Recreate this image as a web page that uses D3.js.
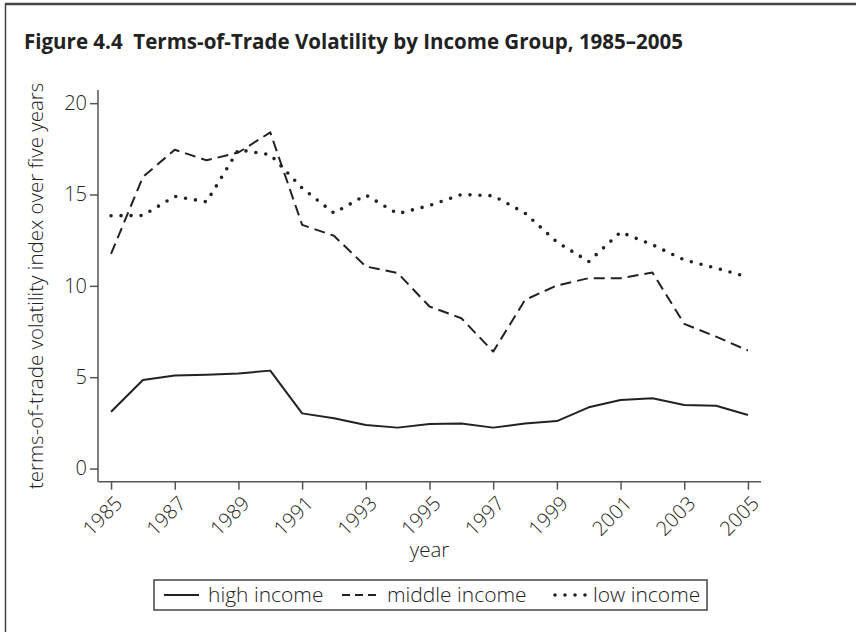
<!DOCTYPE html>
<html>
<head>
<meta charset="utf-8">
<script src="https://cdn.jsdelivr.net/npm/d3@7"></script>
<style>
    body { margin: 0; background: #fff; }
    svg text { font-family: "Open Sans", "DejaVu Sans", sans-serif; font-weight: 300; fill: #222; }
    .axis path, .axis line { stroke: #555; stroke-width: 1.5; }
</style>
</head>
<body>
<svg id="chart" width="856" height="632"></svg>
<script>
// values
var years = [1985, 1986, 1987, 1988, 1989, 1990, 1991, 1992, 1993, 1994, 1995,
             1996, 1997, 1998, 1999, 2000, 2001, 2002, 2003, 2004, 2005];
var high_income = [3.11, 4.85, 5.09, 5.14, 5.2, 5.36, 3.02, 2.75, 2.38, 2.24, 2.44,
                   2.47, 2.24, 2.47, 2.6, 3.35, 3.75, 3.85, 3.48, 3.44, 2.93];
var middle_income = [11.75, 15.96, 17.45, 16.87, 17.3, 18.4, 13.34, 12.74, 11.06, 10.7, 8.87,
                     8.23, 6.4, 9.23, 10.02, 10.42, 10.42, 10.73, 7.92, 7.22, 6.46];
var low_income = [13.84, 13.85, 14.9, 14.6, 17.45, 17.18, 15.35, 13.98, 14.97, 13.95, 14.4,
                  15.0, 14.93, 13.98, 12.4, 11.33, 12.94, 12.25, 11.42, 10.97, 10.48];
var year_ticks = [1985, 1987, 1989, 1991, 1993, 1995, 1997, 1999, 2001, 2003, 2005];
var value_ticks = [0, 5, 10, 15, 20];
var series_labels = ['high income', 'middle income', 'low income'];

var series = [
    {label: series_labels[0], values: high_income, dash: null, width: 2, cap: 'butt'},
    {label: series_labels[1], values: middle_income, dash: '11,6', width: 2, cap: 'butt'},
    {label: series_labels[2], values: low_income, dash: '0,10', width: 3.6, cap: 'round'}
];

var svg = d3.select('#chart');

// frame of the figure box
svg.append('line').attr('x1', 5).attr('x2', 856).attr('y1', 4).attr('y2', 4)
    .attr('stroke', '#444').attr('stroke-width', 2.5);
svg.append('line').attr('x1', 5.5).attr('x2', 5.5).attr('y1', 4).attr('y2', 632)
    .attr('stroke', '#444').attr('stroke-width', 1.5);

svg.append('text')
    .attr('x', 24).attr('y', 49)
    .attr('textLength', 659).attr('lengthAdjust', 'spacingAndGlyphs')
    .style('font-size', '21px').style('font-weight', 'bold')
    .style('white-space', 'pre')
    .text('Figure 4.4  Terms-of-Trade Volatility by Income Group, 1985\u20132005');

var margin = {top: 90, left: 98},
    width = 761 - 98,
    height = 481.7 - 90,
    g = svg.append('g').attr('transform', 'translate(' + margin.left + ',' + margin.top + ')');

var x = d3.scaleLinear().domain([1984.59, 2005.41]).range([0, width]);
var y = d3.scaleLinear().domain([-0.72, 20.72]).range([height, 0]);

g.append('g')
    .attr('class', 'axis')
    .attr('transform', 'translate(0,' + height + ')')
    .call(d3.axisBottom(x).tickValues(year_ticks).tickSize(8).tickSizeOuter(0).tickFormat(d3.format('d')))
    .call(function (a) {
        a.select('.domain').attr('d', 'M0,0H' + width);
        a.selectAll('text')
            .attr('y', 0).attr('x', 0).attr('dy', 0)
            .attr('transform', 'translate(12,23) rotate(-45)')
            .style('text-anchor', 'end')
            .style('font-size', '20px');
    });

g.append('g')
    .attr('class', 'axis')
    .call(d3.axisLeft(y).tickValues(value_ticks).tickSize(8).tickSizeOuter(0))
    .call(function (a) {
        a.select('.domain').attr('d', 'M0,0V' + height);
        a.selectAll('text').attr('x', -11).style('font-size', '20px');
    });

g.append('text')
    .attr('x', x(1995)).attr('y', 467)
    .attr('text-anchor', 'middle')
    .style('font-size', '20.5px')
    .text('year');

svg.append('text')
    .attr('transform', 'translate(43,' + (90 + height / 2) + ') rotate(-90)')
    .attr('text-anchor', 'middle')
    .style('font-size', '20.5px')
    .text('terms-of-trade volatility index over five years');

var line = d3.line()
    .x(function (d, i) { return x(years[i]); })
    .y(function (d) { return y(d); });

g.selectAll('.series')
    .data(series)
    .enter()
    .append('path')
    .attr('class', 'series')
    .attr('d', function (d) { return line(d.values); })
    .attr('fill', 'none')
    .attr('stroke', '#222')
    .attr('stroke-width', function (d) { return d.width; })
    .attr('stroke-dasharray', function (d) { return d.dash; })
    .attr('stroke-linecap', function (d) { return d.cap; })
    .attr('stroke-linejoin', 'round');

// legend
var legend = svg.append('g').attr('transform', 'translate(154,580)');
legend.append('rect')
    .attr('width', 553).attr('height', 30)
    .attr('fill', 'none').attr('stroke', '#444').attr('stroke-width', 1.5);

var key_x = [10, 188, 400];
var text_x = [54, 233, 439];
var items = legend.selectAll('.item')
    .data(series)
    .enter()
    .append('g');
items.append('line')
    .attr('x1', function (d, i) { return key_x[i]; })
    .attr('x2', function (d, i) { return key_x[i] + 35; })
    .attr('y1', 15).attr('y2', 15)
    .attr('stroke', '#222')
    .attr('stroke-width', function (d) { return d.width; })
    .attr('stroke-dasharray', function (d, i) { return i == 1 ? '8,5' : d.dash; })
    .attr('stroke-linecap', function (d) { return d.cap; })
    .attr('transform', function (d, i) { return i == 2 ? 'translate(1,0)' : null; });
items.append('text')
    .attr('x', function (d, i) { return text_x[i]; })
    .attr('y', 22)
    .style('font-size', '21px')
    .text(function (d) { return d.label; });
</script>
</body>
</html>
